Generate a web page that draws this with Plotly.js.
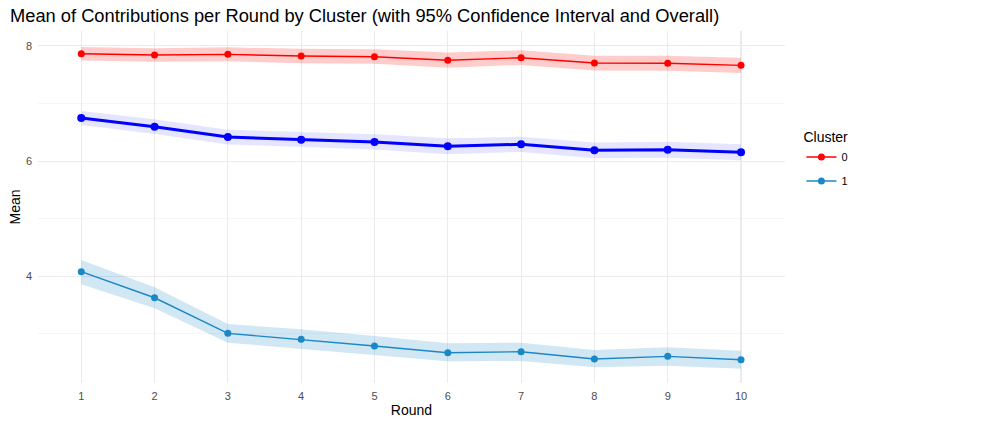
<!DOCTYPE html>
<html>
<head>
<meta charset="utf-8">
<script src="https://cdn.plot.ly/plotly-3.0.1.min.js"></script>
<style>html,body{margin:0;padding:0;background:#fff;}#chart{width:991px;height:427px;}</style>
</head>
<body>
<div id="chart"></div>
<script>
var rounds = [1, 2, 3, 4, 5, 6, 7, 8, 9, 10];

var cluster0Mean  = [7.865, 7.842, 7.854, 7.824, 7.813, 7.752, 7.795, 7.703, 7.698, 7.663];
var cluster0Lower = [7.745, 7.725, 7.735, 7.700, 7.690, 7.620, 7.670, 7.575, 7.570, 7.530];
var cluster0Upper = [7.980, 7.960, 7.975, 7.950, 7.940, 7.885, 7.925, 7.830, 7.830, 7.795];

var cluster1Mean  = [4.080, 3.628, 3.010, 2.906, 2.790, 2.674, 2.691, 2.564, 2.611, 2.552];
var cluster1Lower = [3.861, 3.444, 2.847, 2.743, 2.634, 2.524, 2.530, 2.420, 2.448, 2.396];
var cluster1Upper = [4.283, 3.809, 3.172, 3.080, 2.964, 2.837, 2.847, 2.720, 2.767, 2.708];

var overallMean  = [6.748, 6.597, 6.418, 6.372, 6.332, 6.257, 6.292, 6.188, 6.198, 6.153];
var overallLower = [6.627, 6.470, 6.290, 6.245, 6.200, 6.120, 6.160, 6.050, 6.060, 6.015];
var overallUpper = [6.870, 6.725, 6.545, 6.500, 6.465, 6.395, 6.425, 6.325, 6.335, 6.295];

var yTicks = [4, 6, 8];

function ribbon(lower, upper, color) {
  return {
    x: rounds.concat(rounds.slice().reverse()),
    y: upper.concat(lower.slice().reverse()),
    type: 'scatter', mode: 'lines', fill: 'toself',
    fillcolor: color, line: {width: 0, color: 'rgba(0,0,0,0)'},
    hoverinfo: 'skip', showlegend: false
  };
}

var traces = [
  ribbon(cluster0Lower, cluster0Upper, 'rgba(255,0,0,0.2)'),
  ribbon(cluster1Lower, cluster1Upper, 'rgba(27,136,198,0.2)'),
  ribbon(overallLower, overallUpper, 'rgba(0,0,255,0.1)'),
  {x: rounds, y: cluster0Mean, name: '0', legendgroup: 'g0', type: 'scatter', mode: 'lines+markers',
   line: {color: '#ff0000', width: 1.4}, marker: {color: '#ff0000', size: 7}},
  {x: rounds, y: cluster1Mean, name: '1', legendgroup: 'g1', type: 'scatter', mode: 'lines+markers',
   line: {color: '#1b88c6', width: 1.4}, marker: {color: '#1b88c6', size: 7}},
  {x: rounds, y: overallMean, name: 'Overall', type: 'scatter', mode: 'lines+markers',
   line: {color: '#0000ff', width: 3}, marker: {color: '#0000ff', size: 8}, showlegend: false}
];

var font = 'Liberation Sans, Arial, Helvetica, sans-serif';
var layout = {
  width: 991, height: 427,
  margin: {l: 38, r: 206, t: 31, b: 44},
  paper_bgcolor: '#ffffff', plot_bgcolor: '#ffffff',
  font: {family: font, color: '#000'},
  title: {text: 'Mean of Contributions per Round by Cluster (with 95% Confidence Interval and Overall)',
          x: 10/991, xref: 'container', xanchor: 'left', y: 1 - 16/427, yref: 'container', yanchor: 'middle',
          font: {size: 18.3, color: '#000', family: font}},
  xaxis: {range: [0.41, 10.6], tickvals: rounds, ticktext: rounds.map(String),
          showgrid: true, gridcolor: '#ebebeb', gridwidth: 1.1, zeroline: false, showline: false,
          ticks: '', tickfont: {size: 11, color: '#4d4d4d'}, ticklabelstandoff: 5,
          title: {text: 'Round', font: {size: 14, color: '#000'}, standoff: 4}},
  yaxis: {range: [2.148, 8.259], tickvals: yTicks, ticktext: yTicks.map(String),
          showgrid: true, gridcolor: '#ebebeb', gridwidth: 1.1, zeroline: false, showline: false,
          ticks: '', tickfont: {size: 11, color: '#4d4d4d'}, ticklabelstandoff: 5,
          minor: {tickvals: [3, 5, 7], showgrid: true, gridcolor: '#f4f4f4', gridwidth: 0.8},
          title: {text: 'Mean', font: {size: 14, color: '#000'}, standoff: 1}},
  legend: {x: 1.022, xanchor: 'left', y: 0.735, yanchor: 'top',
           title: {text: 'Cluster', font: {size: 14, color: '#000'}},
           font: {size: 11, color: '#000'}, bgcolor: 'rgba(0,0,0,0)', tracegroupgap: 5},
  showlegend: true
};

Plotly.newPlot('chart', traces, layout, {displayModeBar: false, staticPlot: true});
</script>
</body>
</html>
